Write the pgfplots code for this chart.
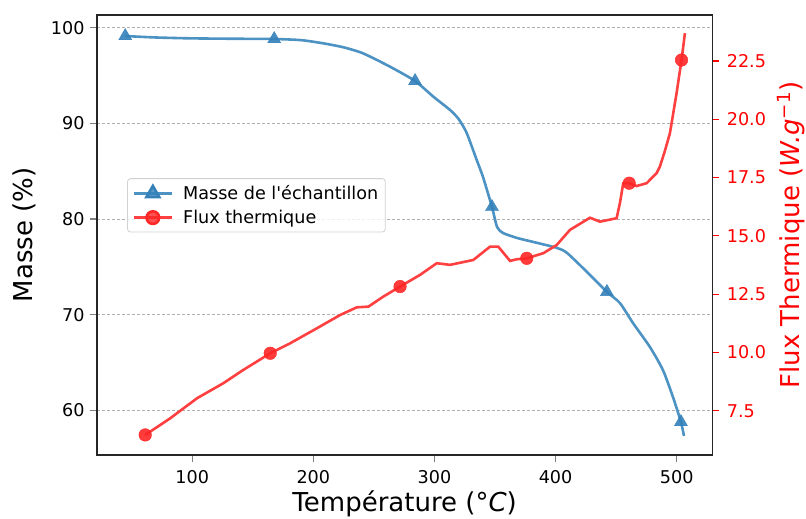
\documentclass[border=0pt]{standalone}
\usepackage{pgfplots}
\pgfplotsset{compat=1.18}
\usepackage{fontspec}
\setmainfont{DejaVu Sans}
\definecolor{bline}{RGB}{76,146,195}
\definecolor{bmark}{RGB}{52,129,186}
\definecolor{rline}{RGB}{255,64,64}
\definecolor{rmark}{RGB}{255,38,38}
\definecolor{gridc}{RGB}{176,176,176}
\newcommand{\tickfont}{\fontsize{17.6bp}{20bp}\selectfont}
\newcommand{\labfont}{\fontsize{26bp}{30bp}\selectfont}
\begin{document}
\begin{tikzpicture}
\pgfplotsset{
  common/.style={
    scale only axis, width=615.3bp, height=440bp,
    xmin=21.4, xmax=529.4,
    tick align=outside,
    major tick length=7bp,
    tick style={line width=1.1bp},
    /pgf/number format/assume math mode=true,
    tick label style={font=\tickfont},
    label style={font=\labfont},
  },
  legend image code/.code={%
    \draw[mark repeat=2,mark phase=2,#1] plot coordinates {(0bp,0bp) (19bp,0bp) (38bp,0bp)};},
}
\begin{axis}[common, name=main,
  ymin=55.33, ymax=101.33,
  axis line style={line width=1.3bp, black!85},
  xtick={100,200,300,400,500},
  ytick={60,70,80,90,100},
  xtick pos=bottom, ytick pos=left,
  x tick label style={yshift=-5bp},
  y tick label style={xshift=-2bp},
  ymajorgrids,
  major grid style={gridc, line width=0.8bp, dash pattern=on 3bp off 2bp},
  xlabel={Température (°\textit{C})},
  ylabel={Masse (\%)},
  xlabel style={yshift=0bp},
  ylabel style={yshift=8bp},
]
\addplot[bline, line width=2.6bp, smooth, tension=0.4] coordinates {
(44.7,99.13) (70,98.98) (98.3,98.89) (130,98.85) (167.7,98.82) (190,98.7)
(208.1,98.37) (225,97.95) (241.1,97.32) (263.4,95.92) (284.0,94.43)
(299.1,92.79) (312.9,91.40) (320,90.45) (326.6,89.0) (334.9,86.17)
(340.1,84.39) (347.5,81.26) (351.7,79.17) (356.6,78.54) (368.2,78.02)
(381.4,77.61) (401.2,76.98) (409.4,76.46) (425.9,74.47) (442.4,72.38)
(453.1,71.22) (463.9,69.13) (477.9,66.62) (488.6,64.22) (496.9,61.40)
(503.5,58.78) (506.0,57.32)};
\addplot[only marks, mark=triangle*, mark size=7.5bp, mark options={fill=bmark, draw=bmark, fill opacity=0.9}] coordinates {
(44.7,99.13) (167.7,98.82) (284.0,94.43) (347.5,81.26) (442.4,72.38) (503.5,58.78)};
\end{axis}
\begin{axis}[common,
  ymin=5.61, ymax=24.47,
  axis x line=none, axis y line*=right,
  axis line style={line width=1.3bp, black!85},
  ytick={7.5,10,12.5,15,17.5,20,22.5},
  ytick style={red, line width=1.1bp},
  y tick label style={red, xshift=4bp, /pgf/number format/fixed, /pgf/number format/fixed zerofill, /pgf/number format/precision=1},
  ylabel={Flux Thermique (\textit{W.g}\textsuperscript{−1})},
  ylabel style={red, yshift=-4bp},
  legend cell align=left,
  legend style={at={(0.049,0.629)}, anchor=north west, draw=black!18, line width=0.8bp, rounded corners=3bp,
    font=\tickfont, fill=white, fill opacity=0.8, text opacity=1,
    inner xsep=5bp, inner ysep=5bp, row sep=5bp,
    /tikz/every odd column/.append style={column sep=8bp}},
]
\addlegendimage{bline, line width=2.6bp, mark=triangle*, mark size=7.5bp, mark options={fill=bmark, draw=bmark}}
\addlegendentry{Masse de l\textquotesingle échantillon}
\addlegendimage{rline, line width=2.6bp, mark=*, mark size=6.3bp, mark options={fill=rmark, draw=rmark}}
\addlegendentry{Flux thermique}
\addplot[rline, line width=2.6bp, forget plot] coordinates {
(61.2,6.47) (81.8,7.18) (103.9,8.04) (125.8,8.69) (142.3,9.26) (164.4,9.97)
(180.9,10.40) (202.9,11.04) (222.1,11.61) (235.9,11.94) (245.5,11.97)
(257.8,12.40) (271.6,12.83) (288.1,13.33) (301.9,13.83) (312.9,13.76)
(332.1,13.97) (345.9,14.54) (352.7,14.54) (362.4,13.93) (367.9,14.00)
(376.2,14.04) (389.9,14.26) (400.9,14.61) (411.9,15.26) (428.4,15.78)
(436.6,15.61) (450.4,15.76) (453.1,16.40) (455.9,17.26) (460.8,17.26)
(466.9,17.14) (475.2,17.26) (483.4,17.69) (486.1,17.97) (490,18.6) (494.4,19.40)
(499.9,21.12) (504.0,22.54) (506.8,23.69)};
\addplot[only marks, forget plot, mark=*, mark size=6.3bp, mark options={fill=rmark, draw=rmark, fill opacity=0.9}] coordinates {
(61.2,6.47) (164.4,9.97) (271.6,12.83) (376.2,14.04) (460.8,17.26) (504.0,22.54)};
\end{axis}
\pgfresetboundingbox
\path (main.south west) ++(-97bp,-64bp) rectangle ++(806bp,519bp);
\end{tikzpicture}
\end{document}
